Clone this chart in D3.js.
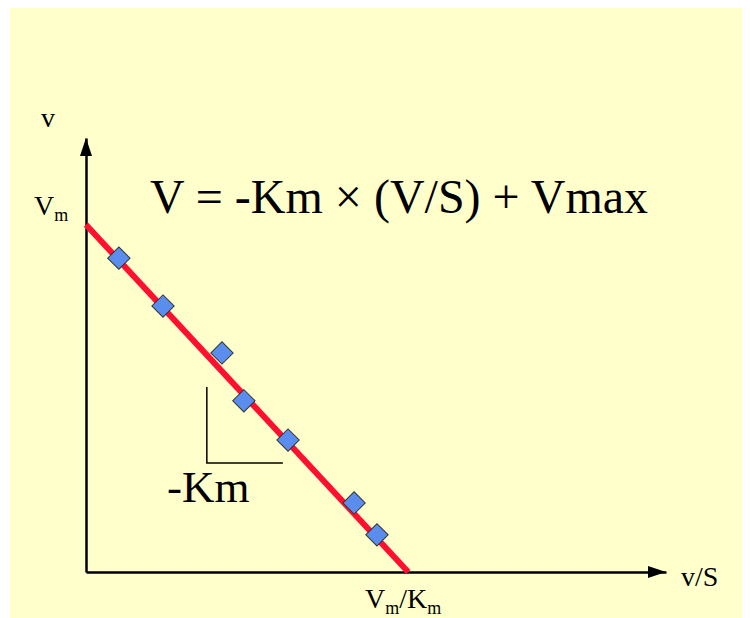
<!DOCTYPE html>
<html>
<head>
<meta charset="utf-8">
<script src="https://cdn.jsdelivr.net/npm/d3@7"></script>
</head>
<body>
<div class="graph"></div>
<script>
// measured points (v/S, v), Vmax = 1, Km = 1
const ratioVals = [0.102, 0.239, 0.422, 0.490, 0.627, 0.832, 0.903];
const velocityVals = [0.904, 0.766, 0.631, 0.493, 0.380, 0.199, 0.107];
const fitX = [0, 1];
const fitY = [1, 0];
// slope marker corners (data units)
const slopeX = [0.375, 0.375, 0.611];
const slopeY = [0.533, 0.314, 0.314];

const pageMargin = 8; // default body margin
const width = 750 - pageMargin, height = 618 - pageMargin;
const serif = "Times New Roman";

// work in page coordinates inside the shifted group
const svg = d3.select(".graph").append("svg")
    .attr("width", width)
    .attr("height", height)
    .attr("font-family", serif)
    .append("g")
    .attr("transform", `translate(${-pageMargin},${-pageMargin})`);

svg.append("rect")
    .attr("x", 10).attr("y", 8)
    .attr("width", 740).attr("height", 610)
    .attr("fill", "#ffffcc");

const x = d3.scaleLinear().domain([0, 1.8]).range([86, 666]);
const y = d3.scaleLinear().domain([0, 1.25]).range([572, 138]);

// labels first
function label(px, py, size) {
    return svg.append("text")
        .attr("x", px).attr("y", py)
        .attr("font-family", serif)
        .attr("font-size", size)
        .attr("fill", "#000");
}

label(48, 127, 28).attr("text-anchor", "middle").text("v");

const vm = label(34, 215, 28);
vm.append("tspan").text("V");
vm.append("tspan").attr("font-size", 18).attr("dy", 6).text("m");

label(681, 586, 28).text("v/S");

const xi = label(365, 608, 28);
xi.append("tspan").text("V");
xi.append("tspan").attr("font-size", 18).attr("dy", 6).text("m");
xi.append("tspan").attr("dy", -6).text("/K");
xi.append("tspan").attr("font-size", 18).attr("dy", 6).text("m");

label(150, 213, 48).text("V = -Km \u00d7 (V/S) + Vmax");

label(167, 502, 45).text("-Km");

// axes with no ticks, just the lines
const xAxis = svg.append("g")
    .attr("transform", `translate(0,${y(0)})`)
    .call(d3.axisBottom(x).tickValues([]).tickSizeOuter(0));
const yAxis = svg.append("g")
    .attr("transform", `translate(${x(0)},0)`)
    .call(d3.axisLeft(y).tickValues([]).tickSizeOuter(0));
[xAxis, yAxis].forEach(a => a.select(".domain")
    .attr("stroke", "#000").attr("stroke-width", 2.5));

// arrow heads
svg.append("path")
    .attr("d", `M${x(1.8)},${y(0)} l-18,-6 l0,12 z`)
    .attr("fill", "#000");
svg.append("path")
    .attr("d", `M${x(0)},${y(1.25)} l-6,18 l12,0 z`)
    .attr("fill", "#000");

// fitted line
const line = d3.line().x(d => x(d[0])).y(d => y(d[1]));
svg.append("path")
    .datum(fitX.map((v, i) => [v, fitY[i]]))
    .attr("d", line)
    .attr("fill", "none")
    .attr("stroke", "#ff1030")
    .attr("stroke-width", 6);

// slope marker
svg.append("path")
    .datum(slopeX.map((v, i) => [v, slopeY[i]]))
    .attr("d", line)
    .attr("fill", "none")
    .attr("stroke", "#000")
    .attr("stroke-width", 1.5);

// data points as diamonds
const diamond = d3.symbol(d3.symbolSquare, 250);
svg.selectAll(".pt")
    .data(ratioVals.map((v, i) => [v, velocityVals[i]]))
    .enter().append("path")
    .attr("class", "pt")
    .attr("d", diamond)
    .attr("transform", d => `translate(${x(d[0])},${y(d[1])}) rotate(45)`)
    .attr("fill", "#5b8def")
    .attr("stroke", "#333")
    .attr("stroke-width", 1);
</script>
</body>
</html>
